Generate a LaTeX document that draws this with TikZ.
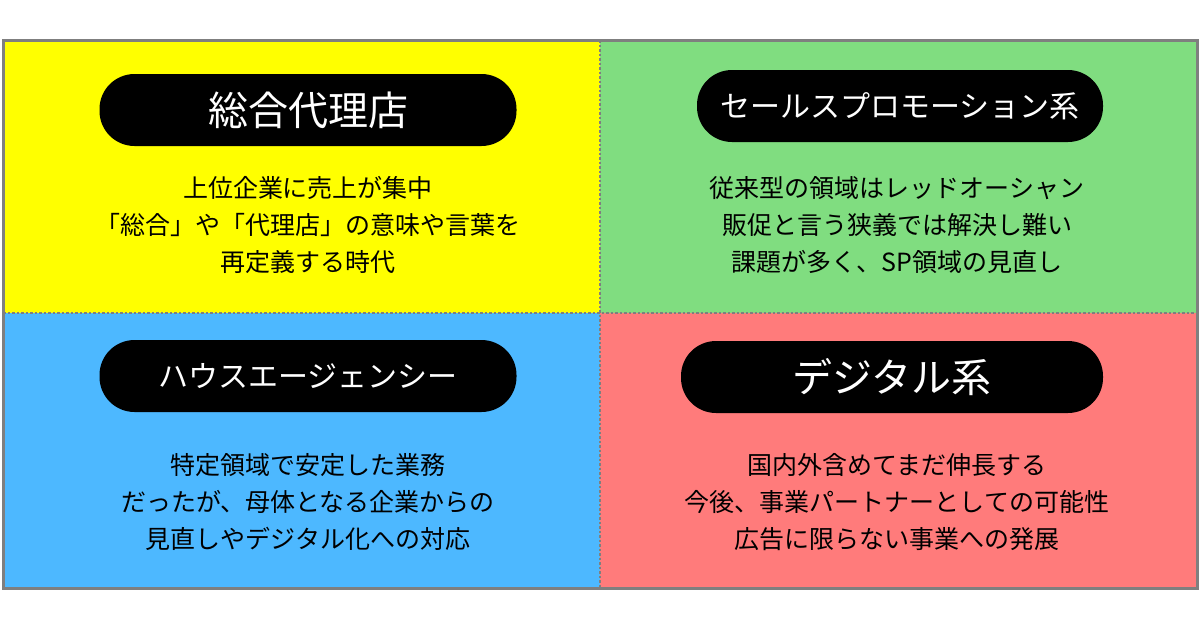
\documentclass[tikz,border=0pt]{standalone}
\usepackage{fontspec}
\setmainfont{Noto Sans CJK JP}
\definecolor{cy}{HTML}{FFFF00}
\definecolor{cg}{HTML}{80DD80}
\definecolor{cb}{HTML}{4DB8FF}
\definecolor{cr}{HTML}{FF7B7B}
\definecolor{fr}{HTML}{7F7F7F}
\begin{document}
\begin{tikzpicture}[x=1pt,y=-1pt,
 pill/.style={fill=black,text=white,rounded corners=35pt,minimum height=72pt,anchor=center},
 body/.style={align=center,font=\fontsize{25}{37}\selectfont,text=black}]
\useasboundingbox (0,0) rectangle (1200,630);
\fill[white] (0,0) rectangle (1200,630);
\fill[cy] (3,40) rectangle (600,313);
\fill[cg] (600,40) rectangle (1197,313);
\fill[cb] (3,313) rectangle (600,588);
\fill[cr] (600,313) rectangle (1197,588);
\draw[fr,line width=2.5pt,dotted] (600,40) -- (600,588);
\draw[fr,line width=2.5pt,dotted] (3,313) -- (1197,313);
\draw[fr,line width=3pt] (3,40) rectangle (1197,588);
\node[pill,minimum width=417pt,font=\fontsize{40}{40}\selectfont] (p1) at (308,110) {総合代理店};
\node[pill,minimum width=406pt,font=\fontsize{30}{30}\selectfont] (p2) at (900,106) {セールスプロモーション系};
\node[pill,minimum width=417pt,font=\fontsize{30}{30}\selectfont] (p3) at (308,376) {ハウスエージェンシー};
\node[pill,minimum width=422pt,font=\fontsize{40}{40}\selectfont] (p4) at (892,377) {デジタル系};
\node[body] (t1) at (308,225) {上位企業に売上が集中\\「総合」や「代理店」の意味や言葉を\\再定義する時代};
\node[body] (t2) at (897,225) {従来型の領域はレッドオーシャン\\販促と言う狭義では解決し難い\\課題が多く、SP領域の見直し};
\node[body] (t3) at (308,502) {特定領域で安定した業務\\だったが、母体となる企業からの\\見直しやデジタル化への対応};
\node[body] (t4) at (897,502) {国内外含めてまだ伸長する\\今後、事業パートナーとしての可能性\\広告に限らない事業への発展};
\end{tikzpicture}
\end{document}
